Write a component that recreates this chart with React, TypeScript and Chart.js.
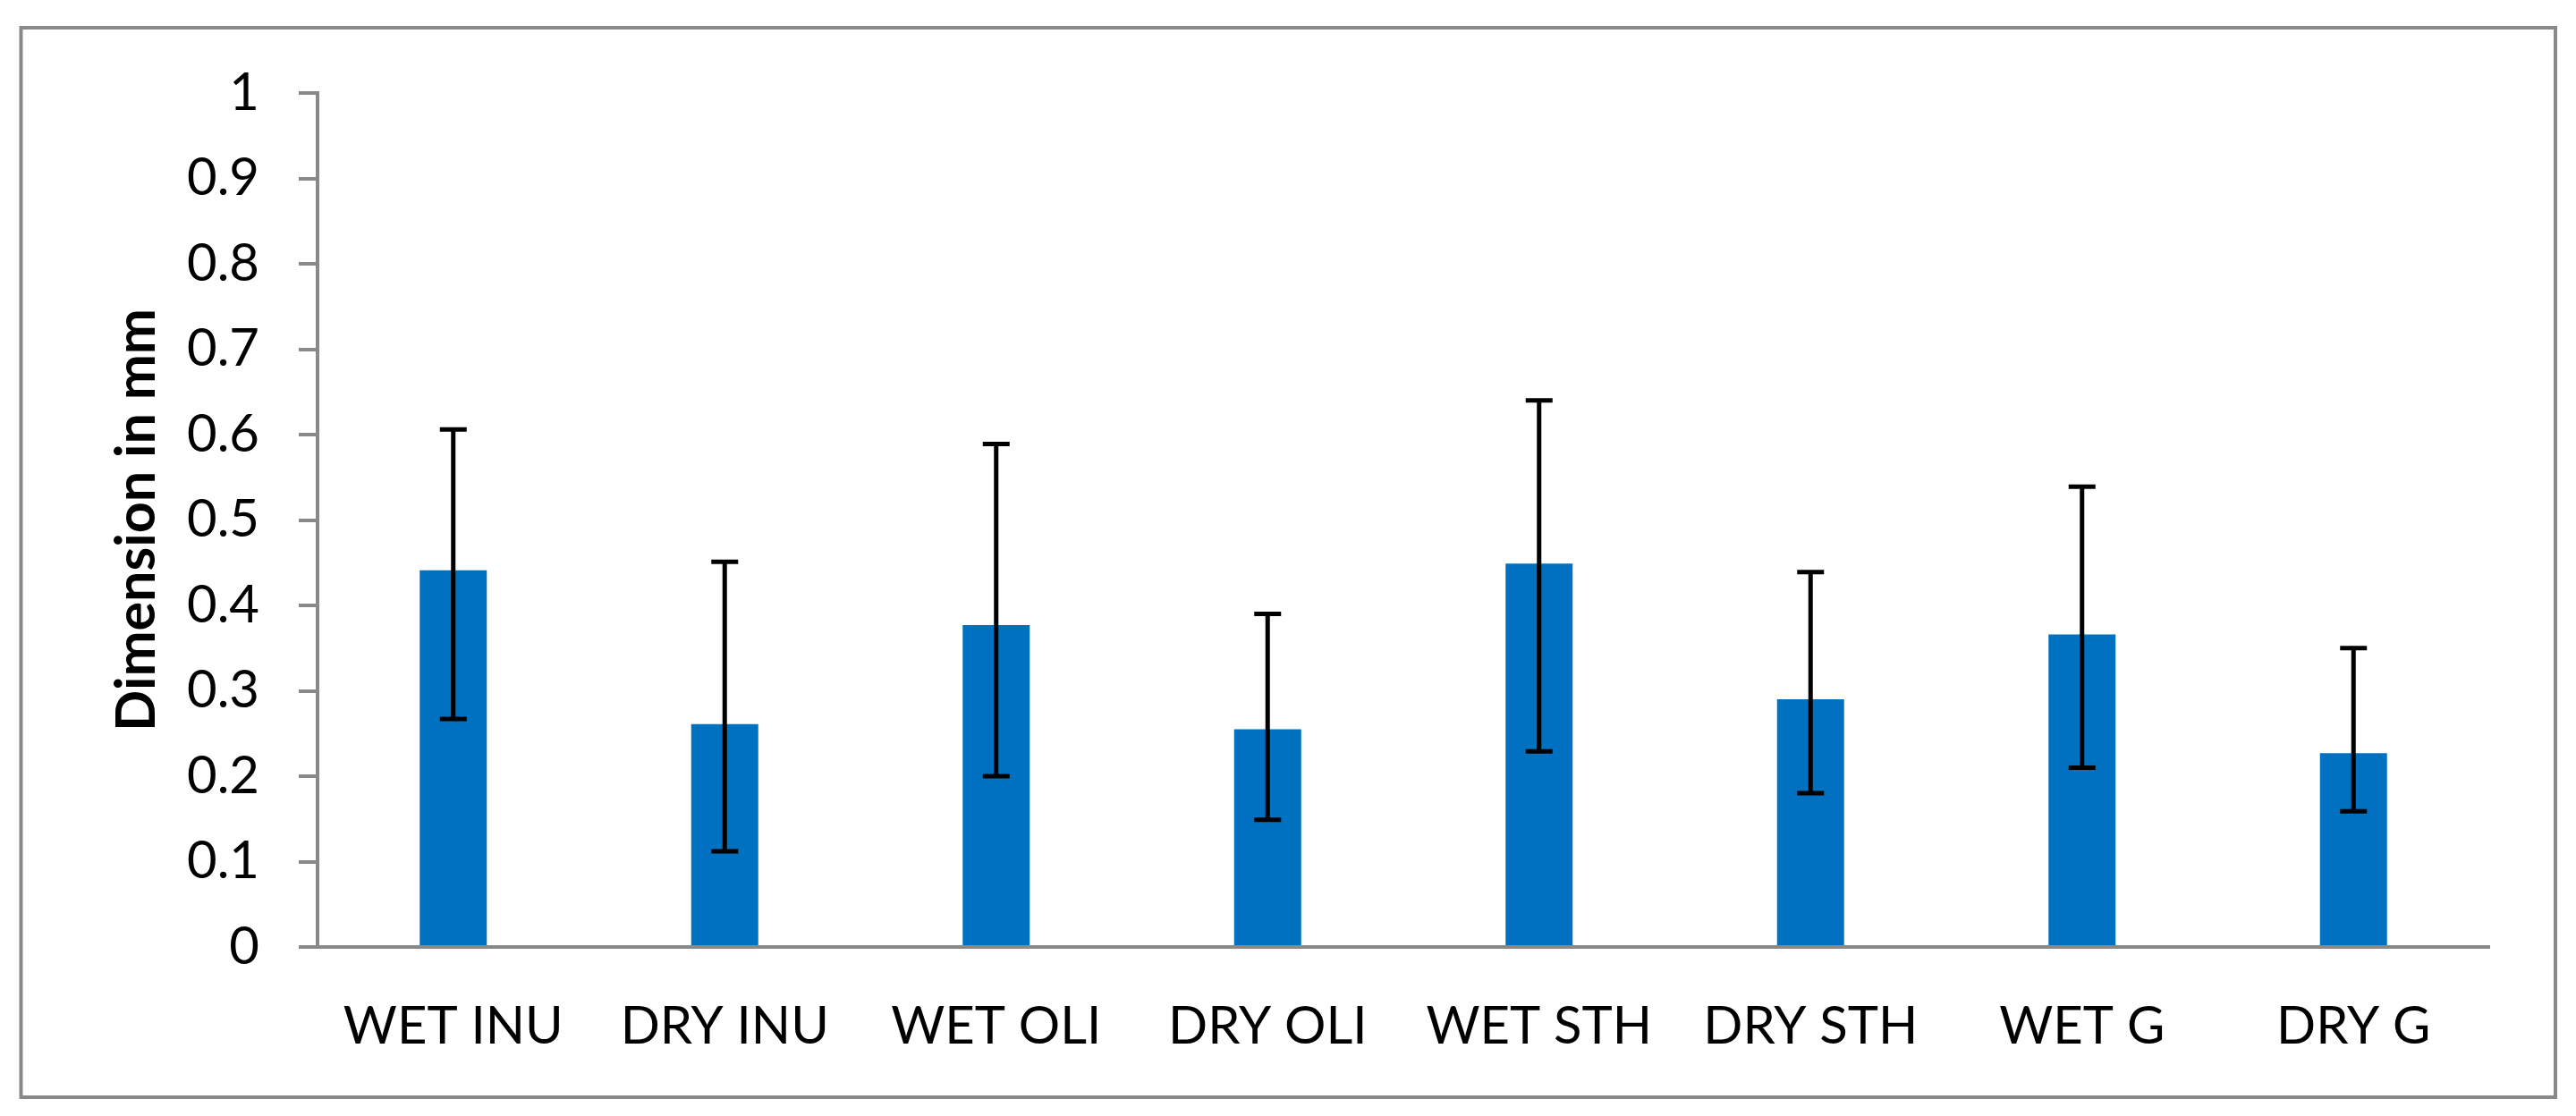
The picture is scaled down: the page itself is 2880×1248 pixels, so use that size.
import React, { useEffect, useRef } from "react";
import { Chart, registerables } from "chart.js";

Chart.register(...registerables);

const categories = ["WET INU", "DRY INU", "WET OLI", "DRY OLI", "WET STH", "DRY STH", "WET G", "DRY G"];
const meanValues = [0.441, 0.261, 0.377, 0.255, 0.449, 0.29, 0.366, 0.227];
const errorUpper = [0.606, 0.451, 0.589, 0.39, 0.64, 0.439, 0.539, 0.35];
const errorLower = [0.267, 0.112, 0.2, 0.149, 0.229, 0.18, 0.21, 0.159];
const yTickLabels = ["0", "0.1", "0.2", "0.3", "0.4", "0.5", "0.6", "0.7", "0.8", "0.9", "1"];

const W = 2880;
const H = 1248;

const framePlugin = {
  id: "frame",
  beforeDraw(chart: any) {
    const ctx = chart.ctx;
    ctx.save();
    ctx.fillStyle = "#ffffff";
    ctx.fillRect(0, 0, chart.width, chart.height);
    ctx.strokeStyle = "#898989";
    ctx.lineWidth = 4;
    ctx.strokeRect(23.5, 31, 2857 - 23.5, 1227 - 31);
    ctx.restore();
  },
};

const errorBarPlugin = {
  id: "errorBars",
  afterDatasetsDraw(chart: any) {
    const ctx = chart.ctx;
    const yScale = chart.scales.y;
    const meta = chart.getDatasetMeta(0);
    ctx.save();
    ctx.strokeStyle = "#000000";
    ctx.lineWidth = 5;
    ctx.lineCap = "butt";
    meta.data.forEach((bar: any, i: number) => {
      const cx = bar.x;
      const yTop = yScale.getPixelForValue(errorUpper[i]);
      const yBot = yScale.getPixelForValue(errorLower[i]);
      const half = 15;
      ctx.beginPath();
      ctx.moveTo(cx, yTop);
      ctx.lineTo(cx, yBot);
      ctx.moveTo(cx - half, yTop);
      ctx.lineTo(cx + half, yTop);
      ctx.moveTo(cx - half, yBot);
      ctx.lineTo(cx + half, yBot);
      ctx.stroke();
    });
    ctx.restore();
  },
};

export default function App() {
  const canvasRef = useRef<HTMLCanvasElement | null>(null);

  useEffect(() => {
    if (!canvasRef.current) return;
    const chart = new Chart(canvasRef.current, {
      type: "bar",
      data: {
        labels: categories,
        datasets: [
          {
            data: meanValues,
            backgroundColor: "#0070C0",
            borderWidth: 0,
            barPercentage: 0.247,
            categoryPercentage: 1,
          },
        ],
      },
      options: {
        animation: false,
        responsive: false,
        devicePixelRatio: 1,
        layout: { padding: { left: 0, top: 104, right: 97, bottom: 0 } },
        plugins: {
          legend: { display: false },
          tooltip: { enabled: false },
        },
        scales: {
          x: {
            grid: { display: true, drawOnChartArea: false, drawTicks: false, tickLength: 0 },
            border: { display: true, color: "#898989", width: 4 },
            ticks: {
              font: { family: "Lato", size: 58 },
              color: "#000000",
              padding: 54,
              maxRotation: 0,
              autoSkip: false,
            },
            afterFit(scale: any) {
              scale.height = 189;
            },
          },
          y: {
            min: 0,
            max: 1,
            ticks: {
              stepSize: 0.1,
              font: { family: "Lato", size: 58 },
              color: "#000000",
              padding: 44,
              callback: (_v: any, i: number) => yTickLabels[i],
            },
            grid: {
              display: true,
              drawOnChartArea: false,
              drawTicks: true,
              tickLength: 21,
              color: "#898989",
              lineWidth: 4,
            },
            border: { display: true, color: "#898989", width: 4 },
            title: {
              display: true,
              text: "Dimension in mm",
              font: { family: "Lato", size: 61, weight: "bold" },
              color: "#000000",
              padding: { top: 117, bottom: 0 },
            },
            afterFit(scale: any) {
              scale.width = 355;
            },
          },
        },
      },
      plugins: [framePlugin, errorBarPlugin],
    } as any);
    return () => chart.destroy();
  }, []);

  return (
    <div style={{ position: "fixed", left: 0, top: 0, width: W, height: H, background: "#fff" }}>
      <canvas ref={canvasRef} width={W} height={H} style={{ display: "block", width: W, height: H }} />
    </div>
  );
}
